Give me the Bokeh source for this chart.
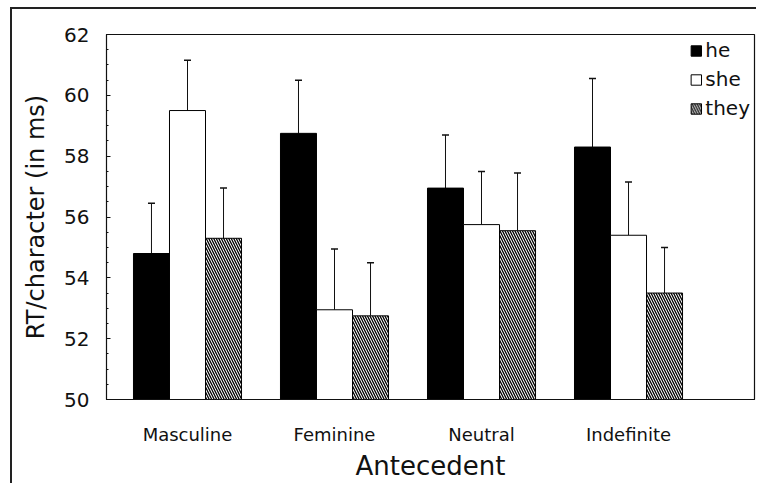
from bokeh.plotting import figure
from bokeh.models import (ColumnDataSource, Whisker, TeeHead, Range1d, FixedTicker,
                          SingleIntervalTicker, Legend, LegendItem)
from bokeh.embed import file_html
from bokeh.resources import INLINE

categories = ["Masculine", "Feminine", "Neutral", "Indefinite"]
series = ["he", "she", "they"]
he_vals = [54.8, 58.75, 56.95, 58.3]
she_vals = [59.5, 52.95, 55.75, 55.4]
they_vals = [55.3, 52.75, 55.55, 53.5]
he_err = [56.45, 60.5, 58.7, 60.55]
she_err = [61.15, 54.95, 57.5, 57.15]
they_err = [56.95, 54.5, 57.45, 55.0]

FONT = "DejaVu Sans"
INK = "#111111"

p = figure(width=756, height=483, output_backend="svg", toolbar_location=None,
           x_range=Range1d(-0.551, 3.857), y_range=Range1d(50, 62),
           min_border_left=106, min_border_top=34, min_border_right=2, min_border_bottom=82)
p.styles = {
    "background-color": "white",
    "background-image": ("linear-gradient(to right, transparent 10px, #222 10px, #222 12px, transparent 12px), "
                         "linear-gradient(to bottom, transparent 7px, #222 7px, #222 9px, transparent 9px)"),
    "background-position": "0 7px, 10px 0",
    "background-repeat": "no-repeat",
}
p.border_fill_alpha = 0
p.xgrid.visible = False
p.ygrid.visible = False
p.outline_line_color = INK
p.outline_line_width = 1.2
p.background_fill_color = "white"

xs = list(range(len(categories)))
offsets = [-0.245, 0.0, 0.245]
width = 0.245
vals = [he_vals, she_vals, they_vals]
errs = [he_err, she_err, they_err]
styles = [dict(fill_color="black"), dict(fill_color="white"),
          dict(fill_color="white", hatch_pattern="\\", hatch_color="black",
               hatch_scale=5.0, hatch_weight=1.3)]
renderers = []
for s, off, v, e, st in zip(series, offsets, vals, errs, styles):
    src = ColumnDataSource(dict(x=[xi + off for xi in xs], top=v, upper=e))
    w = Whisker(source=src, base="x", lower="top", upper="upper", dimension="height",
                line_color=INK, line_width=1,
                lower_head=None, upper_head=TeeHead(size=7, line_color=INK, line_width=1.5))
    p.add_layout(w)
    r = p.vbar(x="x", top="top", bottom=50, width=width, source=src,
               line_color="black", line_width=1, **st)
    renderers.append(r)

legend = Legend(items=[LegendItem(label=s, renderers=[r]) for s, r in zip(series, renderers)],
                location="top_right", label_text_font=FONT, label_text_font_size="20px",
                label_text_color=INK,
                glyph_width=13, glyph_height=13, spacing=5, padding=2, margin=4,
                label_standoff=3, border_line_color=None, background_fill_color="white",
                background_fill_alpha=1.0, label_height=20)
p.add_layout(legend)

# y axis
p.yaxis.ticker = SingleIntervalTicker(interval=2, num_minor_ticks=4)
p.yaxis.axis_label = "RT/character (in ms)"
p.yaxis.axis_label_text_font = FONT
p.yaxis.axis_label_text_font_size = "24px"
p.yaxis.axis_label_text_font_style = "normal"
p.yaxis.axis_label_text_color = INK
p.yaxis.axis_label_standoff = 11
p.yaxis.major_label_text_font = FONT
p.yaxis.major_label_text_font_size = "20px"
p.yaxis.major_label_text_color = INK
p.yaxis.major_label_standoff = 17
p.yaxis.major_tick_in = 4
p.yaxis.major_tick_out = 0
p.yaxis.minor_tick_in = 2
p.yaxis.minor_tick_out = 0
p.yaxis.axis_line_color = INK
p.yaxis.major_tick_line_color = INK
p.yaxis.minor_tick_line_color = INK

# x axis
p.xaxis.ticker = FixedTicker(ticks=xs)
p.xaxis.major_label_overrides = {i: c for i, c in enumerate(categories)}
p.xaxis.axis_label = "Antecedent"
p.xaxis.axis_label_text_font = FONT
p.xaxis.axis_label_text_font_size = "26px"
p.xaxis.axis_label_text_font_style = "normal"
p.xaxis.axis_label_text_color = INK
p.xaxis.axis_label_standoff = 3
p.xaxis.major_label_text_font = FONT
p.xaxis.major_label_text_font_size = "18px"
p.xaxis.major_label_text_color = INK
p.xaxis.major_label_standoff = 24
p.xaxis.major_tick_in = 0
p.xaxis.major_tick_out = 0
p.xaxis.minor_tick_line_color = None
p.xaxis.axis_line_color = INK

open("out.html", "w").write(file_html(p, INLINE))
